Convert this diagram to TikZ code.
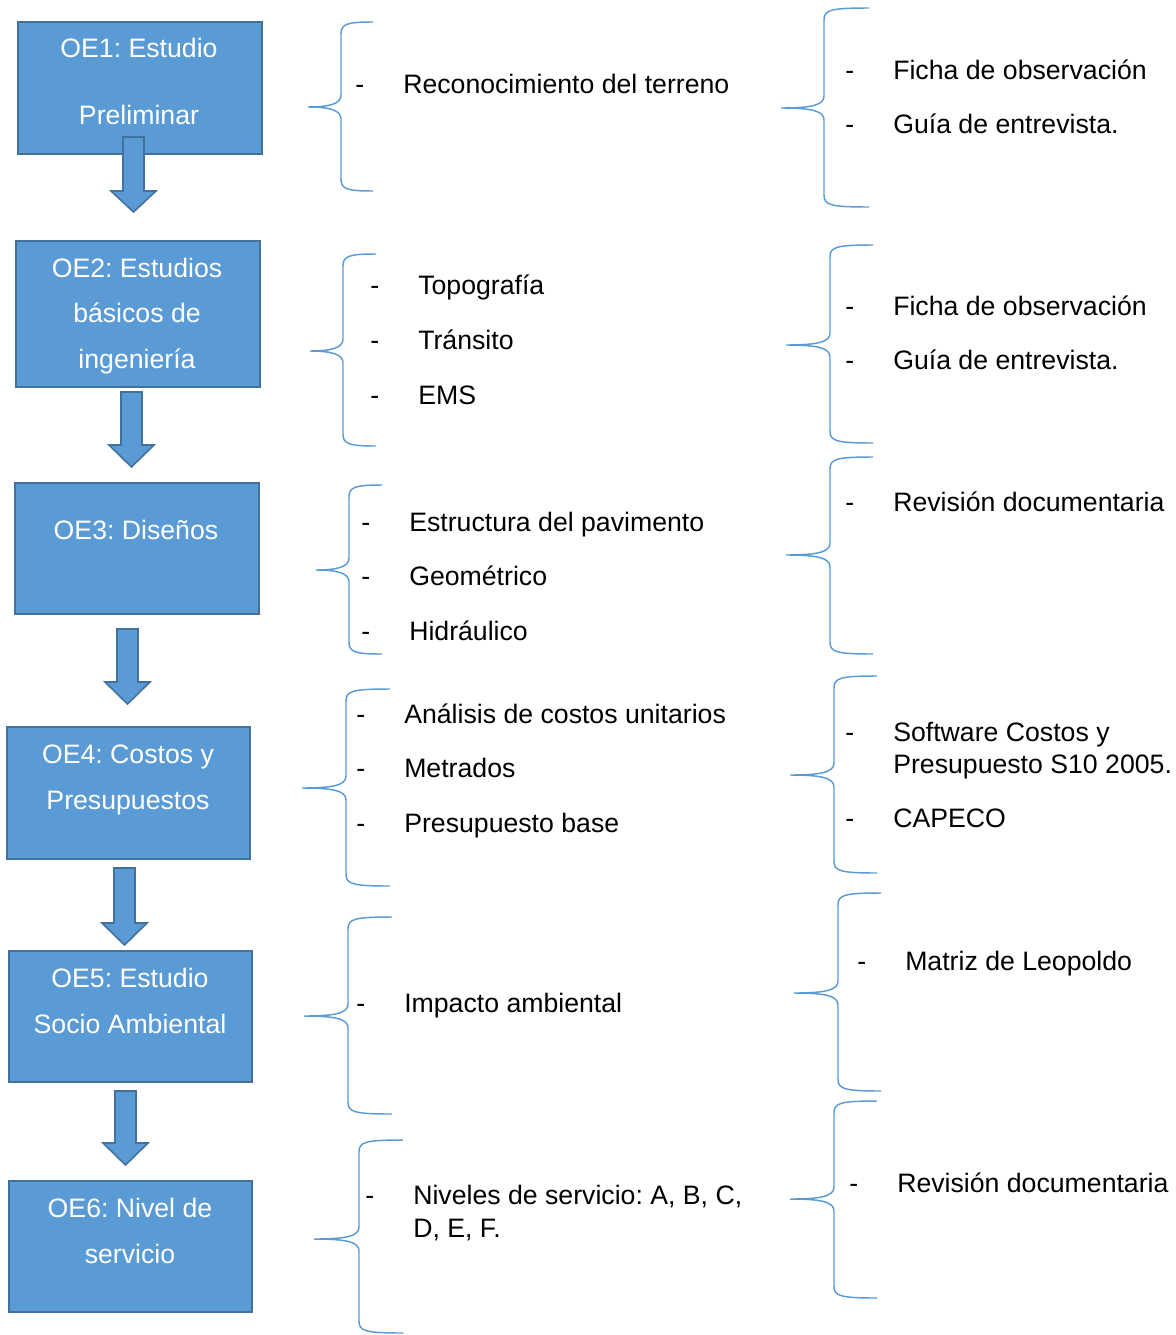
\documentclass[tikz,border=0pt]{standalone}
\usepackage{fontspec}
\setmainfont{Liberation Sans}
\frenchspacing
\definecolor{azul}{HTML}{5B9BD5}
\definecolor{borde}{HTML}{41719C}
\newcommand{\letra}[0]{\fontsize{20}{24}\selectfont}
\newcommand{\caja}[5]{\node[caja, minimum width=#4*0.75pt, minimum height=#5*0.75pt] (#1) at (#2,#3) {}}
\newcommand{\flecha}[4]{\draw[flecha] (#1-10.5,#2) -- (#1+10.5,#2) -- (#1+10.5,#3) -- (#1+22.5,#3)
	-- (#1,#4) -- (#1-22.5,#3) -- (#1-10.5,#3) -- cycle}
\newcommand{\llave}[6]{\draw[llave] (#6,#4) .. controls (#3+6,#4) and (#3,#4+2) .. (#3,#4+12)
	-- (#3,#2-12) .. controls (#3,#2-3) and (#3-12,#2) .. (#1,#2)
	.. controls (#3-12,#2) and (#3,#2+3) .. (#3,#2+12)
	-- (#3,#5-12) .. controls (#3,#5-2) and (#3+6,#5) .. (#6,#5)}
\newcommand{\punto}[4]{\node[texto] (#1g) at (#2-3,#3) {-};
	\node[texto] (#1) at (#2+45,#3) {#4}}

\begin{document}
\begin{tikzpicture}[x=0.75pt, y=-0.75pt,
	caja/.style={draw=borde, fill=azul, line width=1.5pt, anchor=north west, inner sep=0pt},
	flecha/.style={draw=borde, fill=azul, line width=1.2pt, line join=miter},
	llave/.style={draw=azul, line width=1.1pt},
	texto/.style={anchor=base west, inner sep=0pt, font=\letra},
	textocaja/.style={anchor=base, inner sep=0pt, font=\letra, text=white}]
	\useasboundingbox (0,0) rectangle (1175,1335);
%Boxes
	\caja{oe1}{17}{21}{244}{132};
	\caja{oe2}{15}{240}{244}{146};
	\caja{oe3}{14}{482}{244}{131};
	\caja{oe4}{6}{726}{243}{132};
	\caja{oe5}{8}{950}{243}{131};
	\caja{oe6}{8}{1180}{243}{131};
%Box texts
	\node[textocaja] (oe1a) at (139,57) {OE1: Estudio};
	\node[textocaja] (oe1b) at (139,124) {Preliminar};
	\node[textocaja] (oe2a) at (137,277) {OE2: Estudios};
	\node[textocaja] (oe2b) at (137,322) {básicos de};
	\node[textocaja] (oe2c) at (137,368) {ingeniería};
	\node[textocaja] (oe3a) at (136,539) {OE3: Diseños};
	\node[textocaja] (oe4a) at (128,763) {OE4: Costos y};
	\node[textocaja] (oe4b) at (128,809) {Presupuestos};
	\node[textocaja] (oe5a) at (130,987) {OE5: Estudio};
	\node[textocaja] (oe5b) at (130,1033) {Socio Ambiental};
	\node[textocaja] (oe6a) at (130,1217) {OE6: Nivel de};
	\node[textocaja] (oe6b) at (130,1263) {servicio};
%Arrows
	\flecha{133.5}{137}{191}{212};
	\flecha{131.5}{392}{445}{467};
	\flecha{127.5}{629}{682}{704};
	\flecha{124.5}{868}{923}{945};
	\flecha{125.5}{1091}{1143}{1165};
%Middle braces
	\llave{308}{107}{341}{22}{191}{373};
	\llave{310}{351}{343}{254}{446}{376};
	\llave{316}{570}{349}{485}{654}{382};
	\llave{302}{788}{346}{689}{886}{390};
	\llave{304}{1016}{348}{917}{1114}{392};
	\llave{314}{1239}{359}{1140}{1333}{403};
%Right braces
	\llave{781}{108}{824}{8}{207}{869};
	\llave{786}{345}{830}{245}{443}{873};
	\llave{786}{555}{830}{457}{654}{873};
	\llave{790}{775}{834}{676}{873}{877};
	\llave{794}{993}{838}{893}{1091}{881};
	\llave{790}{1199}{834}{1101}{1298}{877};
%Middle items
	\punto{m1}{358}{93}{Reconocimiento del terreno};
	\punto{m2}{373}{294}{Topografía};
	\punto{m3}{373}{349}{Tránsito};
	\punto{m4}{373}{404}{EMS};
	\punto{m5}{364}{531}{Estructura del pavimento};
	\punto{m6}{364}{585}{Geométrico};
	\punto{m7}{364}{640}{Hidráulico};
	\punto{m8}{359}{723}{Análisis de costos unitarios};
	\punto{m9}{359}{777}{Metrados};
	\punto{m10}{359}{832}{Presupuesto base};
	\punto{m11}{359}{1012}{Impacto ambiental};
	\punto{m12}{368}{1204}{Niveles de servicio: A, B, C,};
	\node[texto] (m12b) at (413,1237) {D, E, F.};
%Right items
	\punto{r1}{848}{79}{Ficha de observación};
	\punto{r2}{848}{133}{Guía de entrevista.};
	\punto{r3}{848}{315}{Ficha de observación};
	\punto{r4}{848}{369}{Guía de entrevista.};
	\punto{r5}{848}{511}{Revisión documentaria};
	\punto{r6}{848}{741}{Software Costos y};
	\node[texto] (r6b) at (893,773) {Presupuesto S10 2005.};
	\punto{r7}{848}{827}{CAPECO};
	\punto{r8}{860}{970}{Matriz de Leopoldo};
	\punto{r9}{852}{1192}{Revisión documentaria};
\end{tikzpicture}
\end{document}
